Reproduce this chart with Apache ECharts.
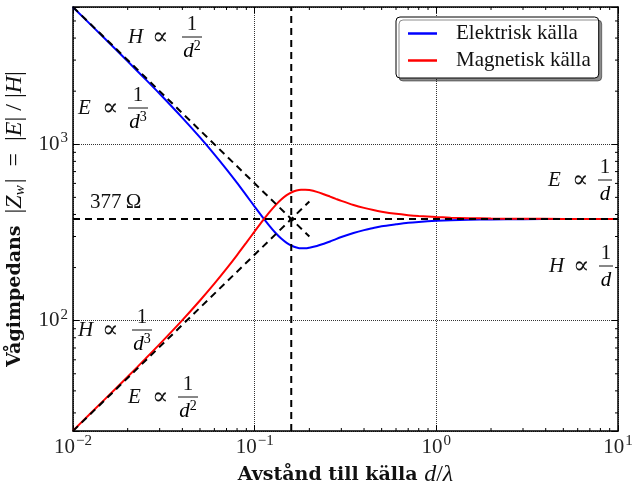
<!DOCTYPE html>
<html>
<head>
<meta charset="utf-8">
<script src="https://cdn.jsdelivr.net/npm/echarts@6/dist/echarts.min.js"></script>
<style>
  html, body { margin: 0; padding: 0; background: #fff; }
  #chart { width: 633px; height: 483px; }
</style>
</head>
<body>
<div id="chart"></div>
<script>
// avstånd d/λ och vågimpedans
var dist = [0.01, 0.015, 0.02, 0.025, 0.03, 0.04, 0.05, 0.06, 0.07, 0.08, 0.09, 0.1, 0.11, 0.12, 0.13, 0.14, 0.15, 0.16, 0.17, 0.18, 0.19, 0.2, 0.22, 0.24, 0.26, 0.28, 0.3, 0.35, 0.4, 0.45, 0.5, 0.6, 0.7, 0.8, 1, 1.2, 1.5, 2, 3, 5, 10]
var zElektrisk = [5976, 3964, 2953, 2342, 1932, 1411, 1093, 877, 721, 604, 513, 443, 389, 347, 315, 292, 276, 266, 260, 257, 257, 259, 265, 273, 281, 290, 298, 314, 326, 335, 343, 352, 359, 363, 368, 371, 373, 375, 376, 377, 377]
var zMagnetisk = [23.8, 35.9, 48.1, 60.7, 73.6, 100.7, 130.1, 162.1, 197.2, 235.5, 276.9, 320.7, 365.6, 409.8, 450.8, 486.3, 514.4, 534.6, 546.9, 552.6, 553.1, 549.9, 537.1, 521.1, 505.2, 490.6, 477.8, 453.0, 435.8, 423.7, 415.0, 403.5, 396.5, 391.9, 386.5, 383.6, 381.2, 379.4, 378.1, 377.4, 377.1]

// asymptoter i närfältet
var asymDist = [0.01, 0.2]
var asymE = [6000, 300]
var asymH = [23.69, 473.7]

var eta = 377
var dGrans = 0.159
var xMin = 0.01, xMax = 10, yMin = 23.69, yMax = 6000

var xMinor = [0.02, 0.03, 0.04, 0.05, 0.06, 0.07, 0.08, 0.09, 0.2, 0.3, 0.4, 0.5, 0.6, 0.7, 0.8, 0.9, 2, 3, 4, 5, 6, 7, 8, 9]
var yMinor = [30, 40, 50, 60, 70, 80, 90, 200, 300, 400, 500, 600, 700, 800, 900, 2000, 3000, 4000, 5000]

var serif = 'Liberation Serif'
var black = '#000'
var ink = '#111'

function pairs (xs, ys) {
  return xs.map(function (x, i) { return [x, ys[i]] })
}

function tickLabel (v) {
  var e = Math.log10(v)
  if (Math.abs(e - Math.round(e)) > 1e-6) return ''
  e = Math.round(e)
  return '{b|10}{s|' + (e < 0 ? '\u2212' + (-e) : e) + '}'
}

var tickRich = {
  b: { fontFamily: serif, fontSize: 21, color: '#222' },
  s: { fontFamily: serif, fontSize: 15, color: '#222', padding: [0, 0, 12, 1] }
}

// annotationer: H ∝ 1/d^n osv
function annot (lx, my, fx, lhs, pot, bar) {
  var den = pot ? '{i|d}{s|' + pot + '}' : '{i|d}'
  return [
    { type: 'text', x: lx, y: my, style: { text: lhs, fontFamily: serif, fontStyle: 'italic', fontSize: 21, fill: ink, textVerticalAlign: 'middle' } },
    { type: 'text', x: lx + 24, y: my + 1, style: { text: '\u221d', fontFamily: 'DejaVu Serif', fontSize: 24, fill: ink, textVerticalAlign: 'middle' } },
    { type: 'text', x: fx, y: my - 13, style: { text: '1', fontFamily: serif, fontSize: 21, fill: ink, textAlign: 'center', textVerticalAlign: 'middle' } },
    { type: 'line', shape: { x1: fx - bar / 2, y1: my, x2: fx + bar / 2, y2: my }, style: { stroke: ink, lineWidth: 1 } },
    { type: 'text', x: fx, y: my + 14, style: {
      text: den, textAlign: 'center', textVerticalAlign: 'middle',
      rich: {
        i: { fontFamily: serif, fontStyle: 'italic', fontSize: 21, color: ink },
        s: { fontFamily: serif, fontSize: 14, color: ink, padding: [0, 0, 10, 0] }
      }
    } }
  ]
}

var texts = [].concat(
  annot(128, 37, 192, 'H', '2', 20),
  annot(78, 108, 138, 'E', '3', 20),
  annot(548, 180, 605, 'E', '', 14),
  annot(549, 266, 606, 'H', '', 14),
  annot(78, 330, 142, 'H', '3', 20),
  annot(128, 397, 188, 'E', '2', 20),
  [{ type: 'text', x: 90, y: 202, style: { text: '377\u2009\u03a9', fontFamily: serif, fontSize: 21, fill: ink, textVerticalAlign: 'middle' } }]
)

function minorX (params, api) {
  var b = api.coord([api.value(0), yMin])
  var t = api.coord([api.value(0), yMax])
  return { type: 'group', children: [
    { type: 'line', shape: { x1: b[0], y1: b[1], x2: b[0], y2: b[1] - 3 }, style: { stroke: black, lineWidth: 1 } },
    { type: 'line', shape: { x1: t[0], y1: t[1], x2: t[0], y2: t[1] + 3 }, style: { stroke: black, lineWidth: 1 } }
  ] }
}
function minorY (params, api) {
  var l = api.coord([xMin, api.value(1)])
  var r = api.coord([xMax, api.value(1)])
  return { type: 'group', children: [
    { type: 'line', shape: { x1: l[0], y1: l[1], x2: l[0] + 3, y2: l[1] }, style: { stroke: black, lineWidth: 1 } },
    { type: 'line', shape: { x1: r[0], y1: r[1], x2: r[0] - 3, y2: r[1] }, style: { stroke: black, lineWidth: 1 } }
  ] }
}

var dashed = { color: black, width: 2, type: [7, 5] }
function dashSeries (data) {
  return { type: 'line', data: data, symbol: 'none', lineStyle: dashed, z: 5, silent: true, animation: false }
}

var nameRich = {
  b: { fontFamily: 'DejaVu Serif', fontWeight: 'bold', fontSize: 19, color: ink },
  i: { fontFamily: serif, fontStyle: 'italic', fontSize: 24, color: ink },
  u: { fontFamily: serif, fontSize: 24, color: ink },
  sub: { fontFamily: serif, fontStyle: 'italic', fontSize: 15, color: ink, padding: [10, 2, 0, 0] }
}

var chart = echarts.init(document.getElementById('chart'), null, { renderer: 'canvas' })
chart.setOption({
  animation: false,
  grid: { left: 73, right: 15, top: 7, bottom: 52, containLabel: false, outerBoundsMode: 'none' },
  legend: {
    data: ['Elektrisk källa', 'Magnetisk källa'],
    orient: 'vertical',
    left: 396, top: 17,
    padding: [6, 8, 7, 12],
    icon: 'rect',
    itemWidth: 29, itemHeight: 2.5, itemGap: 6,
    backgroundColor: '#fff',
    borderColor: black, borderWidth: 1, borderRadius: 4,
    shadowColor: 'rgba(0,0,0,0.45)', shadowBlur: 0, shadowOffsetX: 3, shadowOffsetY: 3,
    textStyle: { fontFamily: serif, fontSize: 21, color: ink, padding: [0, 0, 0, 14] }
  },
  xAxis: [{
    type: 'log', min: xMin, max: xMax, logBase: 10,
    name: '{b|Avstånd till källa }{i|d}{u|/}{i|λ}',
    nameLocation: 'middle', nameGap: 21,
    nameTextStyle: { rich: nameRich },
    axisLine: { lineStyle: { color: black, width: 1.5 } },
    axisTick: { inside: true, length: 6, lineStyle: { color: black } },
    axisLabel: { formatter: tickLabel, rich: tickRich, margin: 3 },
    splitLine: { show: true, lineStyle: { type: 'dotted', color: '#333', width: 1 } }
  }, {
    type: 'log', min: xMin, max: xMax, logBase: 10, position: 'top',
    axisLine: { lineStyle: { color: black, width: 1.5 } },
    axisTick: { inside: true, length: 6, lineStyle: { color: black } },
    axisLabel: { show: false }, splitLine: { show: false }
  }],
  yAxis: [{
    type: 'log', min: yMin, max: yMax, logBase: 10,
    name: '{b|Vågimpedans}{u|  |}{i|Z}{sub|w}{u||  =  |}{i|E}{u|| / |}{i|H}{u||}',
    nameLocation: 'middle', nameGap: 38, nameRotate: 90,
    nameTextStyle: { rich: nameRich },
    axisLine: { lineStyle: { color: black, width: 1.5 } },
    axisTick: { inside: true, length: 6, lineStyle: { color: black } },
    axisLabel: { formatter: tickLabel, rich: tickRich, margin: 5 },
    splitLine: { show: true, lineStyle: { type: 'dotted', color: '#333', width: 1 } }
  }, {
    type: 'log', min: yMin, max: yMax, logBase: 10, position: 'right',
    axisLine: { lineStyle: { color: black, width: 1.5 } },
    axisTick: { inside: true, length: 6, lineStyle: { color: black } },
    axisLabel: { show: false }, splitLine: { show: false }
  }],
  graphic: texts,
  series: [
    {
      name: 'Elektrisk källa', type: 'line', symbol: 'none', smooth: 0.3,
      data: pairs(dist, zElektrisk),
      lineStyle: { color: '#0000ff', width: 2 }, itemStyle: { color: '#0000ff' }
    },
    {
      name: 'Magnetisk källa', type: 'line', symbol: 'none', smooth: 0.3,
      data: pairs(dist, zMagnetisk),
      lineStyle: { color: '#ff0000', width: 2 }, itemStyle: { color: '#ff0000' }
    },
    dashSeries(pairs(asymDist, asymE)),
    dashSeries(pairs(asymDist, asymH)),
    dashSeries([[xMin, eta], [xMax, eta]]),
    dashSeries([[dGrans, yMin], [dGrans, yMax]]),
    { type: 'custom', renderItem: minorX, data: xMinor.map(function (v) { return [v, yMin] }), silent: true, z: 6 },
    { type: 'custom', renderItem: minorY, data: yMinor.map(function (v) { return [xMin, v] }), silent: true, z: 6 }
  ]
})
</script>
</body>
</html>
